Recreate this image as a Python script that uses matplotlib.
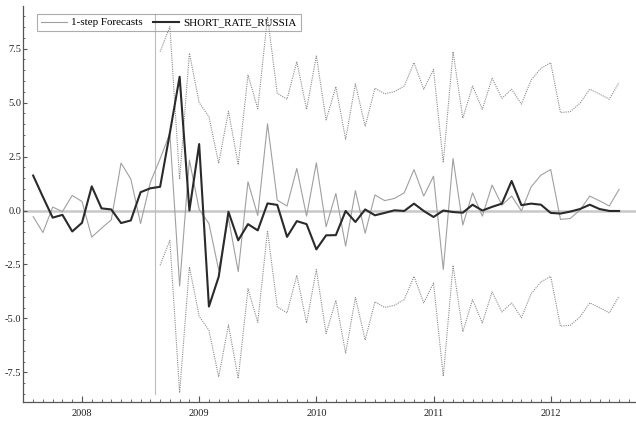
import numpy as np
import matplotlib
matplotlib.use("Agg")
import matplotlib.pyplot as plt
from matplotlib.ticker import MultipleLocator, FixedLocator, FormatStrFormatter

# monthly sample 2007(8) - 2012(8)
start_year, start_month, n_obs = 2007, 8, 61
band_start = 13  # 2008(9), first forecast with error bands

actual = [1.62, 0.63, -0.33, -0.2, -0.97, -0.57, 1.12, 0.1, 0.05, -0.58,
          -0.46, 0.85, 1.03, 1.1, 3.6, 6.2, 0.0, 3.08, -4.45, -3.07,
          -0.06, -1.38, -0.63, -0.92, 0.33, 0.26, -1.22, -0.49, -0.63, -1.8,
          -1.15, -1.14, -0.02, -0.53, 0.05, -0.22, -0.11, 0.01, -0.02, 0.32,
          -0.02, -0.3, 0.0, -0.07, -0.1, 0.27, 0.0, 0.17, 0.32, 1.37,
          0.25, 0.32, 0.27, -0.11, -0.14, -0.05, 0.07, 0.27, 0.07, -0.02,
          -0.02]

forecasts = [-0.28, -1.02, 0.16, -0.05, 0.7, 0.42, -1.23, -0.82, -0.43, 2.2,
             1.46, -0.6, 1.3, 2.4, 3.57, -3.5, 2.34, 0.05, -0.6, -2.76,
             -0.35, -2.83, 1.33, -0.23, 4.02, 0.48, 0.21, 1.95, -0.26, 2.21,
             -0.75, 0.79, -1.65, 0.92, -1.05, 0.72, 0.46, 0.56, 0.82, 1.9,
             0.67, 1.59, -2.73, 2.41, -0.67, 0.82, -0.26, 1.18, 0.25, 0.67,
             -0.02, 1.1, 1.64, 1.9, -0.41, -0.37, 0.02, 0.67, 0.45, 0.21,
             0.98]

upper_band = [7.36, 8.52, 1.45, 7.29, 5.0, 4.35, 2.19, 4.6, 2.12, 6.28,
              4.72, 8.97, 5.43, 5.16, 6.9, 4.69, 7.16, 4.2, 5.74, 3.3,
              5.87, 3.9, 5.67, 5.41, 5.51, 5.77, 6.85, 5.62, 6.54, 2.22,
              7.36, 4.28, 5.77, 4.69, 6.13, 5.2, 5.62, 4.93, 6.05, 6.59,
              6.85, 4.54, 4.58, 4.97, 5.62, 5.4, 5.16, 5.93]

lower_band = [-2.54, -1.38, -8.45, -2.61, -4.9, -5.55, -7.71, -5.3, -7.78, -3.62,
              -5.18, -0.93, -4.47, -4.74, -3.0, -5.21, -2.74, -5.7, -4.16, -6.6,
              -4.03, -6.0, -4.23, -4.49, -4.39, -4.13, -3.05, -4.28, -3.36, -7.68,
              -2.54, -5.62, -4.13, -5.21, -3.77, -4.7, -4.28, -4.97, -3.85, -3.31,
              -3.05, -5.36, -5.32, -4.93, -4.28, -4.5, -4.74, -3.97]

years = [2008, 2009, 2010, 2011, 2012]
yticks = [-7.5, -5.0, -2.5, 0.0, 2.5, 5.0, 7.5]

plt.rcParams['font.family'] = ['Liberation Serif', 'DejaVu Serif']

t = start_year + (start_month - 1 + np.arange(n_obs)) / 12.0

fig = plt.figure(figsize=(6.36, 4.26), dpi=100)
ax = fig.add_axes([0.0366, 0.057, 0.9634, 0.929])

ax.axhline(0, color='#c8c8c8', lw=1.8, zorder=1)
ax.axvline(start_year + (start_month - 1 + band_start - 0.5) / 12.0,
           ymin=0.02, ymax=0.98, color='#bdbdbd', lw=0.8, zorder=1)

ax.plot(t[band_start:], upper_band, color='#8c8c8c', lw=0.8, ls=(0, (1, 1)), zorder=2)
ax.plot(t[band_start:], lower_band, color='#8c8c8c', lw=0.8, ls=(0, (1, 1)), zorder=2)
ax.plot(t, forecasts, color='#a0a0a0', lw=0.8, zorder=3, label='1-step Forecasts')
ax.plot(t, actual, color='#2a2a2a', lw=1.5, zorder=4, label='SHORT_RATE_RUSSIA')

ax.set_xlim(2007.499, 2012.728)
ax.set_ylim(-8.86, 9.48)

ax.xaxis.set_major_locator(FixedLocator(years))
ax.xaxis.set_minor_locator(MultipleLocator(1 / 12))
ax.set_xticklabels([str(y) for y in years])
ax.yaxis.set_major_locator(FixedLocator(yticks))
ax.yaxis.set_minor_locator(MultipleLocator(0.5))
ax.yaxis.set_major_formatter(FormatStrFormatter('%.1f'))

ax.tick_params(which='both', direction='in', colors='#555555', labelcolor='#222222',
               labelsize=7.5)
ax.tick_params(axis='x', which='major', length=4, pad=5)
ax.tick_params(axis='x', which='minor', length=2)
ax.tick_params(axis='y', which='major', length=3, pad=1.5)
ax.tick_params(axis='y', which='minor', length=1.5)

for side in ['top', 'right']:
    ax.spines[side].set_visible(False)
for side in ['left', 'bottom']:
    ax.spines[side].set_color('#555555')
    ax.spines[side].set_linewidth(0.9)

leg = ax.legend(loc='upper left', bbox_to_anchor=(0.022, 0.98), borderaxespad=0,
                ncol=2, fontsize=7.9, frameon=True, fancybox=False,
                handlelength=2.4, handletextpad=0.4, columnspacing=0.9,
                borderpad=0.35)
leg.get_frame().set_facecolor('none')
leg.get_frame().set_edgecolor('#999999')
leg.get_frame().set_linewidth(0.8)
leg.set_zorder(1.5)

fig.savefig('out.png', dpi=100)
